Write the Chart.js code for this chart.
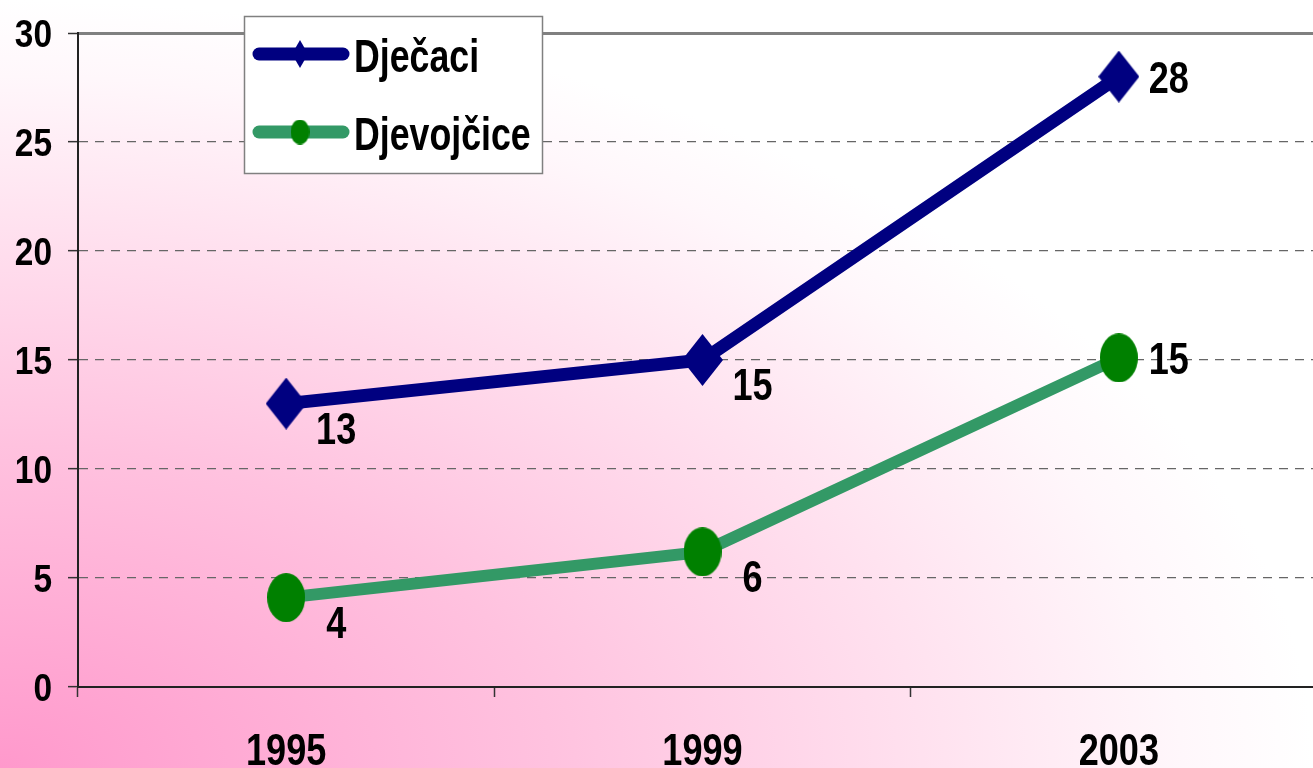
<!DOCTYPE html>
<html>
<head>
<meta charset="utf-8">
<script src="https://cdn.jsdelivr.net/npm/chart.js@4.4.1/dist/chart.umd.min.js"></script>
<style>
  body { margin: 0; }
  #wrap {
    width: 1313px; height: 768px; overflow: hidden; position: relative;
    background: radial-gradient(ellipse farthest-side at 0% 100%, #ff99cc 0%, #ffc2df 42%, #ffe3f0 72%, #fff7fb 90%, #ffffff 100%);
  }
  #box { width: 1327px; height: 768px; position: absolute; left: 0; top: 0; }
</style>
</head>
<body>
<div id="wrap"><div id="box"><canvas id="chart"></canvas></div></div>
<script>
const years = ["1995", "1999", "2003"];
const djecaci = [13, 15, 28];
const djevojcice = [4.1, 6.2, 15.1];
const seriesNames = ["Dječaci", "Djevojčice"];

const FONT = "'Liberation Sans', Arial, sans-serif";

const makeMarker = (w, h, color, shape) => {
  const c = document.createElement("canvas");
  c.width = w;
  c.height = h;
  const g = c.getContext("2d");
  g.fillStyle = color;
  g.beginPath();
  if (shape === "diamond") {
    g.moveTo(w / 2, 0);
    g.lineTo(w, h / 2);
    g.lineTo(w / 2, h);
    g.lineTo(0, h / 2);
    g.closePath();
  } else {
    g.ellipse(w / 2, h / 2, w / 2, h / 2, 0, 0, Math.PI * 2);
  }
  g.fill();
  return c;
};

const diamond = makeMarker(41, 52, "#000080", "diamond");
const ellipse = makeMarker(38, 49, "#008000", "ellipse");
const smallDiamond = makeMarker(16, 28, "#000080", "diamond");
const smallEllipse = makeMarker(19, 25, "#008000", "ellipse");

// narrow bold text, like Arial Narrow
const narrowText = (ctx, text, x, y, size, squeeze, align) => {
  ctx.save();
  ctx.font = `bold ${size}px ${FONT}`;
  ctx.textAlign = align;
  ctx.textBaseline = "alphabetic";
  ctx.fillStyle = "#000";
  ctx.translate(x, y);
  ctx.scale(squeeze, 1);
  ctx.fillText(text, 0, 0);
  ctx.restore();
};

// tick labels of both axes
const axisLabels = {
  id: "axisLabels",
  afterDraw(chart) {
    const ctx = chart.ctx;
    const y = chart.scales.y;
    y.ticks.forEach((t) => {
      narrowText(ctx, String(t.value), 52, y.getPixelForValue(t.value) + 14, 38, 0.88, "right");
    });
    const x = chart.scales.x;
    x.ticks.forEach((t, i) => {
      narrowText(ctx, x.getLabelForValue(t.value), x.getPixelForTick(i), 765, 44, 0.82, "center");
    });
  },
};

// value labels next to the points
const valueLabels = {
  id: "valueLabels",
  afterDatasetsDraw(chart) {
    const ctx = chart.ctx;
    chart.data.datasets.forEach((ds, i) => {
      const meta = chart.getDatasetMeta(i);
      meta.data.forEach((pt, j) => {
        const last = j === meta.data.length - 1;
        const dy = last ? 16 : 40;
        narrowText(ctx, String(Math.round(ds.data[j])), pt.x + 50, pt.y + dy, 44, 0.82, "center");
      });
    });
  },
};

// boxed legend in the upper left of the plot
const boxLegend = {
  id: "boxLegend",
  afterDraw(chart) {
    const ctx = chart.ctx;
    ctx.save();
    ctx.fillStyle = "#fff";
    ctx.fillRect(244, 16, 298, 157);
    ctx.strokeStyle = "#808080";
    ctx.lineWidth = 1.5;
    ctx.strokeRect(244.5, 16.5, 298, 157);
    const marks = [smallDiamond, smallEllipse];
    chart.data.datasets.forEach((ds, i) => {
      const y = 54 + i * 78;
      ctx.strokeStyle = ds.borderColor;
      ctx.lineWidth = 13;
      ctx.lineCap = "round";
      ctx.beginPath();
      ctx.moveTo(259, y);
      ctx.lineTo(343, y);
      ctx.stroke();
      const m = marks[i];
      ctx.drawImage(m, 300 - m.width / 2, y - m.height / 2);
      narrowText(ctx, ds.label, 354, y + 18, 47, 0.76, "left");
    });
    ctx.restore();
  },
};

new Chart(document.getElementById("chart"), {
  type: "line",
  data: {
    labels: years,
    datasets: [
      {
        label: seriesNames[0],
        data: djecaci,
        borderColor: "#000080",
        borderWidth: 13,
        pointStyle: diamond,
        pointRadius: 26,
        pointHoverRadius: 26,
        tension: 0,
      },
      {
        label: seriesNames[1],
        data: djevojcice,
        borderColor: "#339966",
        borderWidth: 12,
        pointStyle: ellipse,
        pointRadius: 24,
        pointHoverRadius: 24,
        tension: 0,
      },
    ],
  },
  options: {
    responsive: true,
    maintainAspectRatio: false,
    animation: false,
    layout: { autoPadding: false, padding: { top: 33, right: 0, left: 0, bottom: 0 } },
    plugins: {
      legend: { display: false },
      tooltip: { enabled: false },
    },
    scales: {
      x: {
        offset: true,
        grid: {
          display: true,
          offset: true,
          drawOnChartArea: false,
          drawTicks: true,
          tickLength: 10,
          tickColor: "#333",
          tickWidth: 1.5,
        },
        border: { color: "#222", width: 2 },
        ticks: { display: false },
        afterFit: (s) => { s.height = 81; },
      },
      y: {
        min: 0,
        max: 30,
        ticks: { stepSize: 5, display: false },
        grid: {
          color: (c) => (c.tick && c.tick.value === 30 ? "#808080" : "#666"),
          lineWidth: (c) => (c.tick && c.tick.value === 30 ? 3 : 1.3),
          tickLength: 10,
          tickColor: "#333",
          tickWidth: 1.5,
        },
        border: {
          color: "#222",
          width: 2,
          dash: (c) => (c.tick && c.tick.value === 30 ? [] : [9, 7]),
        },
        afterFit: (s) => { s.width = 78; },
      },
    },
  },
  plugins: [axisLabels, valueLabels, boxLegend],
});
</script>
</body>
</html>
